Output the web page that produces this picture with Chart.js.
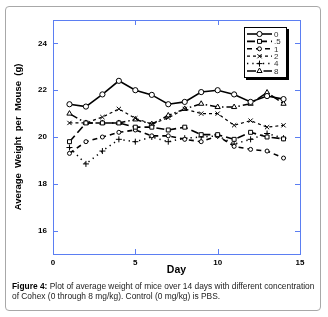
<!DOCTYPE html>
<html lang="en">
<head>
<meta charset="UTF-8">
<title>Average weight of mice</title>
<script src="https://cdn.jsdelivr.net/npm/chart.js"></script>
<style>
  body { margin: 0; background: #fff; }
  #card {
    position: absolute; left: 5px; top: 6px; width: 316px; height: 305px;
    border: 1px solid #a8a8a8; border-radius: 4px; box-sizing: border-box;
  }
  #chart { position: absolute; left: 0; top: 0; }
  #caption {
    position: absolute; left: 12px; top: 281px; white-space: nowrap;
    font: 8.4px "Liberation Sans", Arial, sans-serif; line-height: 10px; color: #222;
  }
  #caption b { color: #000; }
</style>
</head>
<body>
<div id="card"></div>
<canvas id="chart" width="328" height="317"></canvas>
<div id="caption"><b>Figure 4:</b> Plot of average weight of mice over 14 days with different concentration<br>of Cohex (0 through 8 mg/kg). Control (0 mg/kg) is PBS.</div>

<script>
// values
const days = [1, 2, 3, 4, 5, 6, 7, 8, 9, 10, 11, 12, 13, 14];
const w0  = [21.4, 21.3, 21.82, 22.4, 22.0, 21.8, 21.4, 21.5, 21.92, 22.0, 21.82, 21.5, 21.75, 21.62];
const w05 = [19.8, 20.6, 20.6, 20.6, 20.42, 20.42, 20.3, 20.42, 20.1, 20.1, 19.9, 20.2, 20.0, 19.92];
const w1  = [19.3, 19.8, 20.0, 20.2, 20.3, 20.05, 20.05, 19.9, 19.8, 20.05, 19.6, 19.47, 19.4, 19.1];
const w2  = [20.6, 20.6, 20.85, 21.2, 20.8, 20.55, 20.82, 21.2, 21.0, 21.0, 20.5, 20.7, 20.42, 20.5];
const w4  = [19.55, 18.85, 19.4, 19.9, 19.8, 20.0, 19.8, 19.95, 20.0, 20.05, 19.7, 19.9, 20.15, 19.95];
const w8  = [21.0, 20.6, 20.6, 20.6, 20.75, 20.55, 20.92, 21.2, 21.42, 21.28, 21.28, 21.42, 21.9, 21.42];
const xTicks = [0, 5, 10, 15];
const yTicks = [16, 18, 20, 22, 24];

const blue = '#5b7ef2';
const font = '"Liberation Sans", Arial, sans-serif';

function pts(arr) {
    return days.map((d, i) => ({ x: d, y: arr[i] }));
}

function series(label, arr, dash, style, radius, width) {
    return {
        label: label,
        data: pts(arr),
        borderColor: '#000',
        borderWidth: width,
        borderDash: dash,
        pointStyle: style,
        pointRadius: radius,
        pointBorderWidth: 1,
        pointBorderColor: '#000',
        pointBackgroundColor: '#fff',
        tension: 0,
        fill: false
    };
}

// frame of the plot with inward ticks on all four sides
const frame = {
    id: 'frame',
    beforeDatasetsDraw(chart) {
        const ctx = chart.ctx;
        const a = chart.chartArea;
        const sx = chart.scales.x, sy = chart.scales.y;
        ctx.save();
        ctx.strokeStyle = blue;
        ctx.lineWidth = 1;
        ctx.strokeRect(a.left + 0.5, a.top + 0.5, a.right - a.left, a.bottom - a.top);
        ctx.beginPath();
        xTicks.slice(1, -1).forEach(v => {
            const px = Math.round(sx.getPixelForValue(v)) + 0.5;
            ctx.moveTo(px, a.bottom); ctx.lineTo(px, a.bottom - 5);
            ctx.moveTo(px, a.top); ctx.lineTo(px, a.top + 5);
        });
        yTicks.forEach(v => {
            const py = Math.round(sy.getPixelForValue(v)) + 0.5;
            ctx.moveTo(a.left, py); ctx.lineTo(a.left + 5, py);
            ctx.moveTo(a.right, py); ctx.lineTo(a.right - 5, py);
        });
        ctx.stroke();
        ctx.restore();
    }
};

// boxed legend with drop shadow, line sample + marker per series
const legendBox = {
    id: 'legendBox',
    afterDraw(chart) {
        const ctx = chart.ctx;
        const x0 = 244, y0 = 27, w = 42, h = 50;
        ctx.save();
        ctx.fillStyle = '#000';
        ctx.fillRect(x0 + 2, y0 + 2, w + 1, h + 1);
        ctx.fillStyle = '#fff';
        ctx.fillRect(x0, y0, w, h);
        ctx.strokeStyle = '#000';
        ctx.lineWidth = 1;
        ctx.strokeRect(x0 + 0.5, y0 + 0.5, w, h);
        chart.data.datasets.forEach((ds, i) => {
            const y = 34 + i * 7.4;
            ctx.strokeStyle = '#000';
            ctx.lineWidth = ds.borderWidth;
            ctx.setLineDash(ds.borderDash);
            ctx.beginPath();
            ctx.moveTo(247, y); ctx.lineTo(272, y);
            ctx.stroke();
            ctx.setLineDash([]);
            ctx.fillStyle = '#fff';
            ctx.lineWidth = 1;
            Chart.helpers.drawPoint(ctx, { pointStyle: ds.pointStyle, radius: ds.pointRadius, borderWidth: 1, rotation: 0 }, 259.5, y);
            ctx.fillStyle = '#333';
            ctx.font = '8px ' + font;
            ctx.textBaseline = 'middle';
            ctx.fillText(ds.label, 274, y + 0.5);
        });
        ctx.restore();
    }
};

new Chart(document.getElementById('chart'), {
    type: 'line',
    data: {
        datasets: [
            series('0', w0, [], 'circle', 2.6, 1.6),
            series('.5', w05, [8, 4], 'rect', 2.8, 1.6),
            series('1', w1, [5, 4], 'circle', 2, 1.6),
            series('2', w2, [3, 3], 'crossRot', 3, 1.2),
            series('4', w4, [1.3, 4], 'cross', 3, 1.5),
            series('8', w8, [9, 3, 1.5, 3], 'triangle', 3, 1.5)
        ]
    },
    options: {
        responsive: false,
        animation: false,
        layout: { padding: { left: 5, top: 20, right: 28, bottom: 41 } },
        plugins: { legend: { display: false }, tooltip: { enabled: false } },
        scales: {
            x: {
                type: 'linear',
                min: 0, max: 15,
                afterBuildTicks: s => { s.ticks = xTicks.map(v => ({ value: v })); },
                afterFit: s => { s.height = 22; },
                grid: { display: false, drawTicks: false },
                border: { display: false },
                ticks: { color: '#000', padding: 4, maxRotation: 0, font: { family: font, size: 8, weight: 'bold' } },
                title: { display: true, text: 'Day', color: '#000', padding: 0, font: { family: font, size: 10.5, weight: 'bold' } }
            },
            y: {
                min: 15, max: 25,
                afterBuildTicks: s => { s.ticks = yTicks.map(v => ({ value: v })); },
                afterFit: s => { s.width = 48; },
                grid: { display: false, drawTicks: false },
                border: { display: false },
                ticks: { color: '#000', padding: 6, font: { family: font, size: 8, weight: 'bold' } },
                title: { display: true, text: 'Average  Weight  per  Mouse  (g)', color: '#000', padding: { top: 8, bottom: 0 }, font: { family: font, size: 9.5, weight: 'bold' } }
            }
        }
    },
    plugins: [frame, legendBox]
});
</script>
</body>
</html>
